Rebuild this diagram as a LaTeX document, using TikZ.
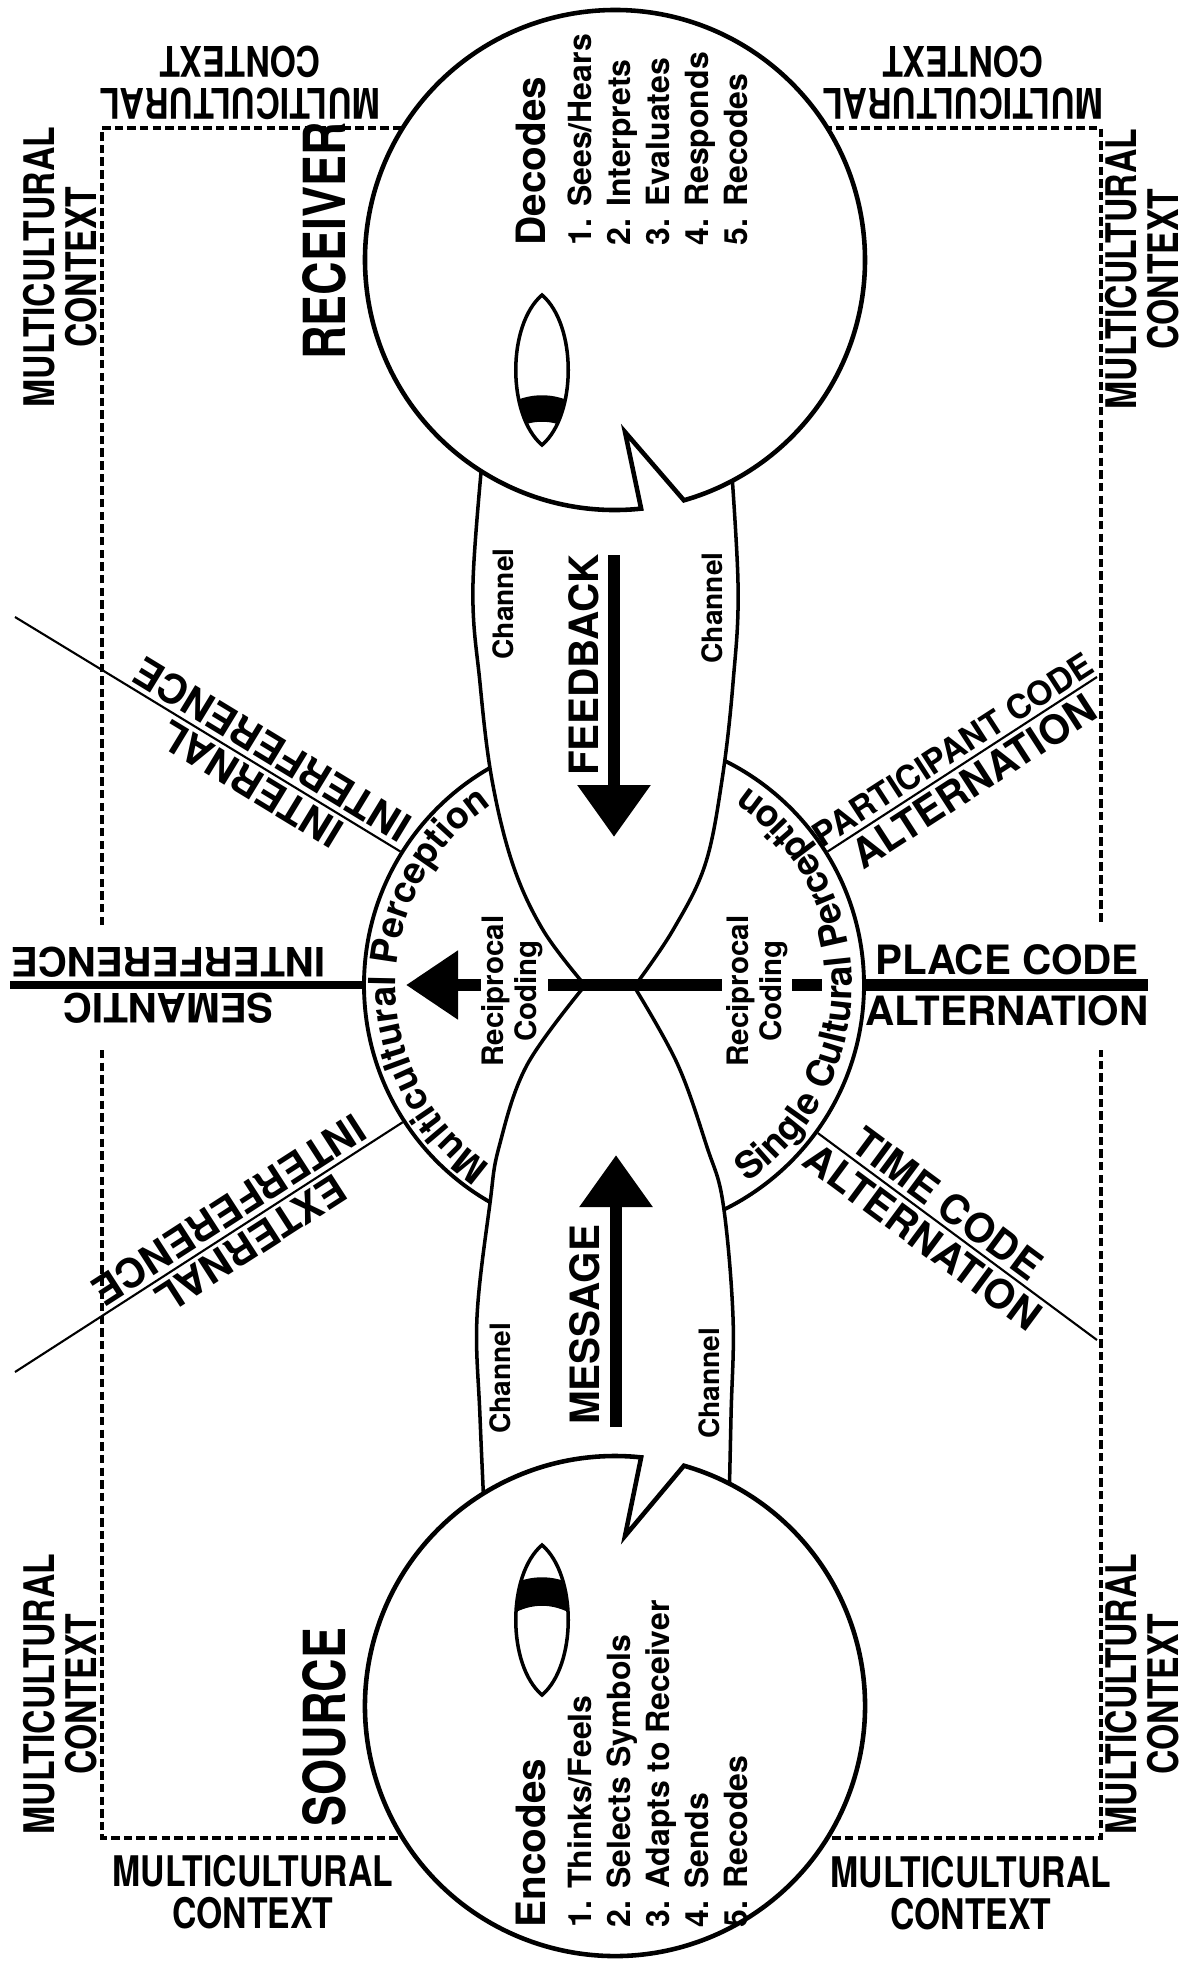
\documentclass[tikz,border=0pt]{standalone}
\usepackage{fontspec}
\setmainfont{TeX Gyre Heros}
\newfontfamily\condfont[FakeStretch=0.8]{TeX Gyre Heros}
\usetikzlibrary{arrows.meta, positioning, calc, decorations.text}

\tikzset{
  ctxline/.style={line width=1.4pt, dash pattern=on 2.4pt off 1.2pt},
  ctxlabel/.style={font=\condfont\bfseries\fontsize{12}{12}\selectfont, align=center, inner sep=0pt},
  headlabel/.style={font=\condfont\bfseries\fontsize{16.5}{18}\selectfont, inner sep=0pt, rotate=90},
  headshape/.style={draw, fill=white, line width=1.3pt},
  chan/.style={draw, fill=white, line width=1pt},
  eyeline/.style={line width=1pt},
  spoke/.style={line width=0.6pt},
  codebar/.style={line width=3.4pt},
  bigarrow/.style={line width=3.6pt, -{Triangle[length=5.2mm, width=7mm]}},
  spokelabel/.style={font=\bfseries\fontsize{11.5}{12}\selectfont, inner sep=1.2pt, sloped, allow upside down},
  chanlabel/.style={font=\bfseries\fontsize{8}{9}\selectfont, rotate=90, inner sep=0pt},
  recip/.style={font=\bfseries\fontsize{8.4}{9.4}\selectfont, rotate=90, align=center, inner sep=0pt},
  arrowlabel/.style={font=\bfseries\fontsize{11.5}{12}\selectfont, rotate=90, inner sep=0pt},
  listhead/.style={font=\bfseries\fontsize{11.5}{12}\selectfont, rotate=90, inner sep=0pt, anchor=base west},
  listitem/.style={font=\bfseries\fontsize{9.1}{10}\selectfont, rotate=90, inner sep=0pt, anchor=base west},
}

\begin{document}
\begin{tikzpicture}[x=0.1mm, y=-0.1mm]
  \useasboundingbox (0,0) rectangle (1183,1964);

  \coordinate (rc) at (615,260);
  \coordinate (sc) at (615,1706);

  % multicultural context frame
  \draw[ctxline] (102,925) -- (102,128) -- (1101,128) -- (1101,925);
  \draw[ctxline] (102,1050) -- (102,1838) -- (1101,1838) -- (1101,1050);

  % perception circle and the spokes round it
  \node[circle, draw, fill=white, line width=1.1pt, minimum size=50mm, inner sep=0pt] (perc) at (614,985) {};

  \coordinate (int-end) at (15,617);
  \coordinate (ext-end) at (15,1372);
  \coordinate (sem-end) at (10,985);
  \coordinate (par-end) at (1097,677);
  \coordinate (plc-end) at (1148,985);
  \coordinate (tim-end) at (1097,1340);

  \draw[spoke] (perc.148) -- (int-end)
    node[spokelabel, pos=.36, above] (int-a) {INTERNAL}
    node[spokelabel, pos=.36, below] (int-b) {INTERFERENCE};
  \draw[spoke] (perc.213) -- (ext-end)
    node[spokelabel, pos=.42, above] (ext-a) {EXTERNAL}
    node[spokelabel, pos=.42, below] (ext-b) {INTERFERENCE};
  \draw[line width=2.1pt] (perc.west) -- (sem-end)
    node[spokelabel, pos=.55, above] (sem-a) {SEMANTIC}
    node[spokelabel, pos=.55, below] (sem-b) {INTERFERENCE};
  \draw[spoke] (perc.32) -- (par-end)
    node[spokelabel, pos=.5, above, font=\bfseries\fontsize{9.5}{10}\selectfont] (par-a) {PARTICIPANT CODE}
    node[spokelabel, pos=.5, below] (par-b) {ALTERNATION};
  \draw[codebar] (perc.east) -- (plc-end)
    node[spokelabel, pos=.5, above] (plc-a) {PLACE CODE}
    node[spokelabel, pos=.5, below] (plc-b) {ALTERNATION};
  \draw[spoke] (perc.324) -- (tim-end)
    node[spokelabel, pos=.42, above] (tim-a) {TIME CODE}
    node[spokelabel, pos=.42, below] (tim-b) {ALTERNATION};

  % channels
  \draw[chan] plot[smooth, tension=.6] coordinates {(486,420) (473,583) (480,683) (492,780) (513,865) (543,930) (583,983)}
    -- plot[smooth, tension=.6] coordinates {(637,983) (673,930) (705,865) (722,780) (733,683) (738,583) (728,420)} -- cycle;
  \draw[chan] plot[smooth, tension=.6] coordinates {(587,983) (527,1065) (499,1147) (490,1203) (477,1317) (480,1417) (486,1550)}
    -- plot[smooth, tension=.6] coordinates {(728,1550) (731,1417) (733,1317) (723,1203) (707,1147) (677,1063) (632,983)} -- cycle;

  % heads
  \draw[headshape] ([shift={(rc)}]84:250) arc[start angle=84, end angle=434, radius=250]
    -- ($(rc)+(10,172)$) -- cycle;
  \draw[headshape] ([shift={(sc)}]286:250) arc[start angle=286, end angle=636, radius=250]
    -- ($(sc)+(10,-170)$) -- cycle;

  % eyes
  \foreach \ey/\ptop/\pbot in {370/26/52, 1620/-42/-14} {
    \begin{scope}[shift={(542,\ey)}]
      \draw[eyeline] (0,-75) .. controls (35,-45) and (35,45) .. (0,75)
        .. controls (-35,45) and (-35,-45) .. (0,-75) -- cycle;
      \begin{scope}
        \clip (0,-75) .. controls (35,-45) and (35,45) .. (0,75)
          .. controls (-35,45) and (-35,-45) .. (0,-75) -- cycle;
        \fill (-30,\ptop+6) .. controls (-10,\ptop-3) and (10,\ptop-3) .. (30,\ptop+6)
          -- (30,\pbot+8) .. controls (10,\pbot-3) and (-10,\pbot-3) .. (-30,\pbot+8) -- cycle;
      \end{scope}
    \end{scope}
  }

  % labels of the two people
  \node[headlabel] (recv) at (324,241) {RECEIVER};
  \node[headlabel] (srce) at (324,1727) {SOURCE};

  \node[listhead] (dec) at (545,246) {Decodes};
  \foreach \t [count=\i] in {1. Sees/Hears, 2. Interprets, 3. Evaluates, 4. Responds, 5. Recodes}
    \node[listitem] (dec-\i) at (552+39*\i,246) {\t};
  \node[listhead] (enc) at (545,1928) {Encodes};
  \foreach \t [count=\i] in {1. Thinks/Feels, 2. Selects Symbols, 3. Adapts to Receiver, 4. Sends, 5. Recodes}
    \node[listitem] (enc-\i) at (552+39*\i,1928) {\t};

  % channel words
  \node[chanlabel] (ch-1) at (503,604) {Channel};
  \node[chanlabel] (ch-2) at (712,608) {Channel};
  \node[chanlabel] (ch-3) at (500,1378) {Channel};
  \node[chanlabel] (ch-4) at (709,1383) {Channel};

  % feedback and message
  \coordinate (fb-top) at (614,555);
  \coordinate (fb-tip) at (614,837);
  \draw[bigarrow] (fb-top) -- (fb-tip);
  \node[arrowlabel] (fb) at (584,665) {FEEDBACK};
  \coordinate (ms-bot) at (616,1427);
  \coordinate (ms-tip) at (616,1155);
  \draw[bigarrow] (ms-bot) -- (ms-tip);
  \node[arrowlabel] (ms) at (585,1325) {MESSAGE};

  % reciprocal coding on the centre line
  \coordinate (lar-s) at (481,985);
  \coordinate (lar-t) at (406,985);
  \draw[codebar, -{Triangle[length=5.2mm, width=6.6mm]}] (lar-s) -- (lar-t);
  \draw[codebar] (548,985) -- (722,985);
  \draw[codebar] (792,985) -- (822,985);
  \node[recip] (rec-l) at (512,991) {Reciprocal\\Coding};
  \node[recip] (rec-r) at (757,991) {Reciprocal\\Coding};

  % perception words along the circle
  \path[decorate, decoration={text along path, text align=center,
      text={|\bfseries\fontsize{10.6}{12}\selectfont|Multicultural Perception}}]
    ([shift={(perc.center)}]100:218) arc[start angle=100, end angle=260, radius=218];
  \path[decorate, decoration={text along path, text align=center,
      text={|\bfseries\fontsize{10.6}{12}\selectfont|Single Cultural Perception}}]
    ([shift={(perc.center)}]80:238) arc[start angle=80, end angle=-80, radius=238];

  % multicultural context labels
  \node[ctxlabel, rotate=90] (ctx-lt) at (60,267) {MULTICULTURAL\\CONTEXT};
  \node[ctxlabel, rotate=90] (ctx-rt) at (1142,269) {MULTICULTURAL\\CONTEXT};
  \node[ctxlabel, rotate=90] (ctx-lb) at (60,1694) {MULTICULTURAL\\CONTEXT};
  \node[ctxlabel, rotate=90] (ctx-rb) at (1142,1694) {MULTICULTURAL\\CONTEXT};
  \node[ctxlabel, rotate=180] (ctx-tl) at (240,83) {MULTICULTURAL\\CONTEXT};
  \node[ctxlabel, rotate=180] (ctx-tr) at (963,83) {MULTICULTURAL\\CONTEXT};
  \node[ctxlabel] (ctx-bl) at (253,1892) {MULTICULTURAL\\CONTEXT};
  \node[ctxlabel] (ctx-br) at (971,1893) {MULTICULTURAL\\CONTEXT};
\end{tikzpicture}
\end{document}
